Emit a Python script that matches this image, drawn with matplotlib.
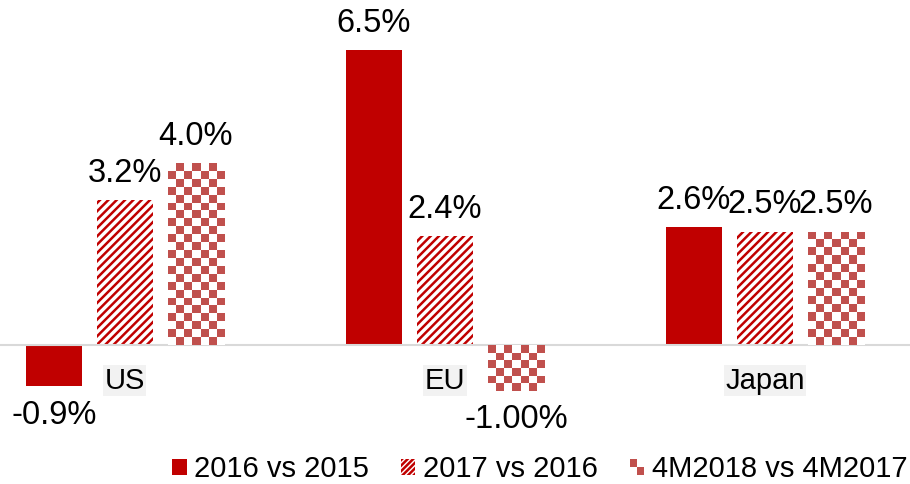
import numpy as np
import matplotlib
matplotlib.use("Agg")
import matplotlib.pyplot as plt
from matplotlib.patches import Patch, Rectangle
from matplotlib.colors import ListedColormap
from matplotlib.legend_handler import HandlerBase

plt.rcParams['font.family'] = ['Liberation Sans', 'DejaVu Sans']
plt.rcParams['hatch.linewidth'] = 1.8

# ===== DATA =====
regions = ["US", "EU", "Japan"]
series = ["2016 vs 2015", "2017 vs 2016", "4M2018 vs 4M2017"]
v2016 = [-0.9, 6.5, 2.6]
v2017 = [3.2, 2.4, 2.5]
v4m2018 = [4.0, -1.0, 2.5]
labels2016 = ["-0.9%", "6.5%", "2.6%"]
labels2017 = ["3.2%", "2.4%", "2.5%"]
labels4m = ["4.0%", "-1.00%", "2.5%"]

# ===== COLORS =====
red = "#c00000"
checker_red = "#c0504d"

fig = plt.figure(figsize=(9.1, 4.84), dpi=100)
ax = fig.add_axes([0, 0.0909, 1, 0.9091])

x = np.arange(len(regions))
width = 0.175
step = 0.222

bars1 = ax.bar(x - step, v2016, width, color=red, linewidth=0)
bars2 = ax.bar(x, v2017, width, facecolor="white", edgecolor=red,
               hatch="////", linewidth=0)
bars3 = ax.bar(x + step, v4m2018, width, color="none", linewidth=0)

xlim = (-0.39, 2.453)
ylim = (-2.09, 7.6)
px_x = 910 / (xlim[1] - xlim[0])
px_y = 440 / (ylim[1] - ylim[0])
cmap = ListedColormap(["white", checker_red])

# checkerboard fill, clipped to each bar
for b in bars3:
    x0, y0 = b.get_x(), b.get_y()
    w, h = b.get_width(), b.get_height()
    ncol = max(1, int(round(w * px_x / 8)))
    nrow = max(1, int(round(abs(h) * px_y / 8)))
    grid = (np.indices((nrow, ncol)).sum(axis=0) % 2)
    ybot, ytop = min(y0, y0 + h), max(y0, y0 + h)
    img = ax.imshow(grid, cmap=cmap, extent=(x0, x0 + w, ybot, ytop),
                    origin="lower", interpolation="nearest", aspect="auto",
                    zorder=2)
    img.set_clip_path(b)

ax.axhline(0, color="#d9d9d9", linewidth=1.5, zorder=1)


def add_labels(bars, vals, texts):
    for b, v, t in zip(bars, vals, texts):
        cx = b.get_x() + b.get_width() / 2
        if v >= 0:
            ax.annotate(t, (cx, v), xytext=(0, 8), textcoords="offset points",
                        ha="center", va="bottom", fontsize=23.5)
        else:
            ax.annotate(t, (cx, v), xytext=(0, -10), textcoords="offset points",
                        ha="center", va="top", fontsize=23.5)


add_labels(bars1, v2016, labels2016)
add_labels(bars2, v2017, labels2017)
add_labels(bars3, v4m2018, labels4m)

for i, r in enumerate(regions):
    ax.text(i, -0.78, r, ha="center", va="center", fontsize=21,
            bbox=dict(boxstyle="square,pad=0.05", facecolor="#f2f2f2",
                      edgecolor="none"))

ax.set_xlim(*xlim)
ax.set_ylim(*ylim)
ax.axis("off")


class CheckerHandler(HandlerBase):
    def create_artists(self, legend, orig_handle, xdescent, ydescent,
                       width, height, fontsize, trans):
        arts = []
        hw, hh = width / 2, height / 2
        for i in range(2):
            for j in range(2):
                c = checker_red if (i + j) % 2 == 0 else "white"
                r = Rectangle((-xdescent + i * hw, -ydescent + (1 - j) * hh),
                              hw, hh, facecolor=c, edgecolor="none",
                              transform=trans)
                arts.append(r)
        return arts


h1 = Patch(facecolor=red, edgecolor="none")
h2 = Patch(facecolor="white", edgecolor=red, hatch="//////", linewidth=0)
h3 = Patch(facecolor="white")
fig.legend([h1, h2, h3], series, loc="center", bbox_to_anchor=(0.593, 0.03),
           ncol=3, frameon=False, fontsize=21, handlelength=0.5,
           handleheight=0.5, handletextpad=0.25, columnspacing=1.1,
           handler_map={h3: CheckerHandler()})

fig.savefig("out.png", dpi=100)
